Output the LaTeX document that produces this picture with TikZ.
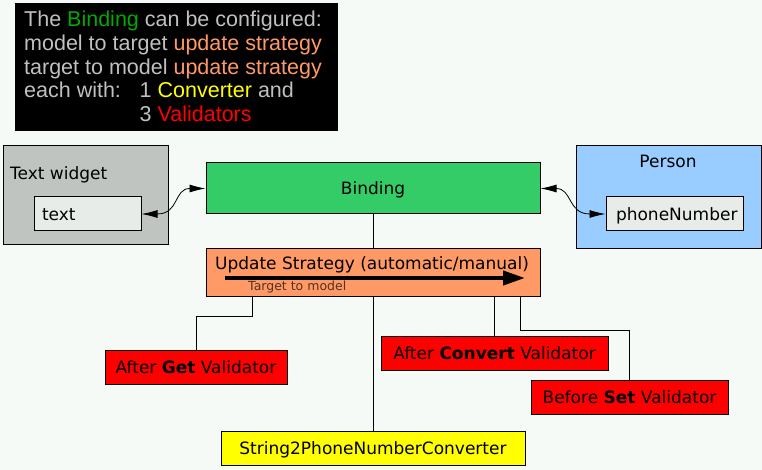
\documentclass[tikz,border=0pt]{standalone}
\usepackage{fontspec}
\setmainfont{DejaVu Sans}
\newfontfamily\notefont{Liberation Sans}
\usepackage{xcolor}
\usepackage{tikz}
\usetikzlibrary{positioning, calc, arrows.meta}
\definecolor{pagebg}{HTML}{F6FAF7}
\definecolor{widgetgray}{HTML}{C0C4C0}
\definecolor{fieldgray}{HTML}{E8ECE8}
\definecolor{bindgreen}{HTML}{33CC66}
\definecolor{personblue}{HTML}{99CCFF}
\definecolor{strategyorange}{HTML}{FF9966}
\definecolor{notegray}{HTML}{C0C0C0}
\definecolor{notegreen}{HTML}{00AA00}
\definecolor{valred}{HTML}{FF0000}
\definecolor{convyellow}{HTML}{FFFF00}
\definecolor{hintbrown}{HTML}{553322}

\begin{document}
\begin{tikzpicture}[x=1pt, y=-1pt,
		caption/.style={inner sep=0pt, text height=12.5pt, text depth=0pt, font=\fontsize{17}{20}\selectfont},
		box/.style={caption, draw=black, line width=1pt},
		notetext/.style={anchor=base west, inner sep=0pt, text=notegray, font=\notefont\fontsize{21.5}{24}\selectfont},
		link/.style={line width=0.8pt},
		bind/.style={link, {Latex[length=16pt,width=8pt]}-{Latex[length=16pt,width=8pt]}}]
		\useasboundingbox[fill=pagebg] (0,0) rectangle (762,470);
		
		% note in the corner
		\node[fill=black, minimum width=323pt, minimum height=128pt, anchor=north west, inner sep=0pt] (note) at (15,3) {};
		\node[notetext] (l1) at (24,26.5) {The \textcolor{notegreen}{Binding} can be configured:};
		\node[notetext] (l2) at (24,50.3) {model to target \textcolor{strategyorange}{update strategy}};
		\node[notetext] (l3) at (24,74.1) {target to model \textcolor{strategyorange}{update strategy}};
		\node[notetext] (l4) at (24,97.9) {each with:};
		\node[notetext] (l4b) at (139.5,97.9) {1 \textcolor{convyellow}{Converter} and};
		\node[notetext] (l5) at (139.5,121.7) {3 \textcolor{valred}{Validators}};
		
		\node[box, fill=widgetgray, minimum width=165pt, minimum height=98pt] (widget) at (85.5,195) {};
		\node[caption, anchor=west] (widgetlabel) at (10,173.3) {Text widget};
		\node[box, fill=fieldgray, minimum width=107pt, minimum height=34pt, text width=91pt, align=left] (field) at (87.5,214) {text};
		
		\node[box, fill=bindgreen, minimum width=334pt, minimum height=51pt] (binding) at (373,188.5) {Binding};
		
		\node[box, fill=personblue, minimum width=185pt, minimum height=102pt] (person) at (668.5,197) {};
		\node[caption] (personlabel) at (668,161.7) {Person};
		\node[box, fill=fieldgray, minimum width=137pt, minimum height=34pt, text width=117pt, align=left] (phone) at (674.5,214) {phoneNumber};
		
		\node[box, fill=strategyorange, minimum width=334pt, minimum height=48pt] (strategy) at (373,272) {};
		\node[caption, anchor=base] (strategylabel) at (372,269.5) {Update Strategy (automatic/manual)};
		\coordinate (flowstart) at (225,278);
		\coordinate (flowend) at (525,278);
		\draw[line width=4pt, -{Triangle[length=22pt,width=14pt]}] (flowstart) -- (flowend);
		\node[inner sep=0pt, text=hintbrown, font=\fontsize{12.5}{14}\selectfont, anchor=base west] (direction) at (248,290) {Target to model};
		
		\node[box, fill=valred, minimum width=182pt, minimum height=34pt] (getv) at (196,367) {After \textbf{Get} Validator};
		\node[box, fill=valred, minimum width=227pt, minimum height=34pt] (convertv) at (494.5,353) {After \textbf{Convert} Validator};
		\node[box, fill=valred, minimum width=197pt, minimum height=34pt] (setv) at (629.5,397) {Before \textbf{Set} Validator};
		\node[box, fill=convyellow, minimum width=304pt, minimum height=34pt] (converter) at (373,448) {String2PhoneNumberConverter};
		
		\draw[link] (binding.south) -- (strategy.north);
		\draw[link] (strategy.south) -- (converter.north);
		\draw[link] ([xshift=-121pt]strategy.south) -- ++(0,20) -| (getv.north);
		\draw[link] (strategy.south -| convertv.north) -- (convertv.north);
		\draw[link] ([xshift=147pt]strategy.south) -- ++(0,34) -| (setv.north);
		
		\draw[bind] (field.east) .. controls +(38,0) and +(-32,0) .. (binding.west);
		\draw[bind] (binding.east) .. controls +(32,0) and +(-38,0) .. (phone.west);
		\end{tikzpicture}
\end{document}
